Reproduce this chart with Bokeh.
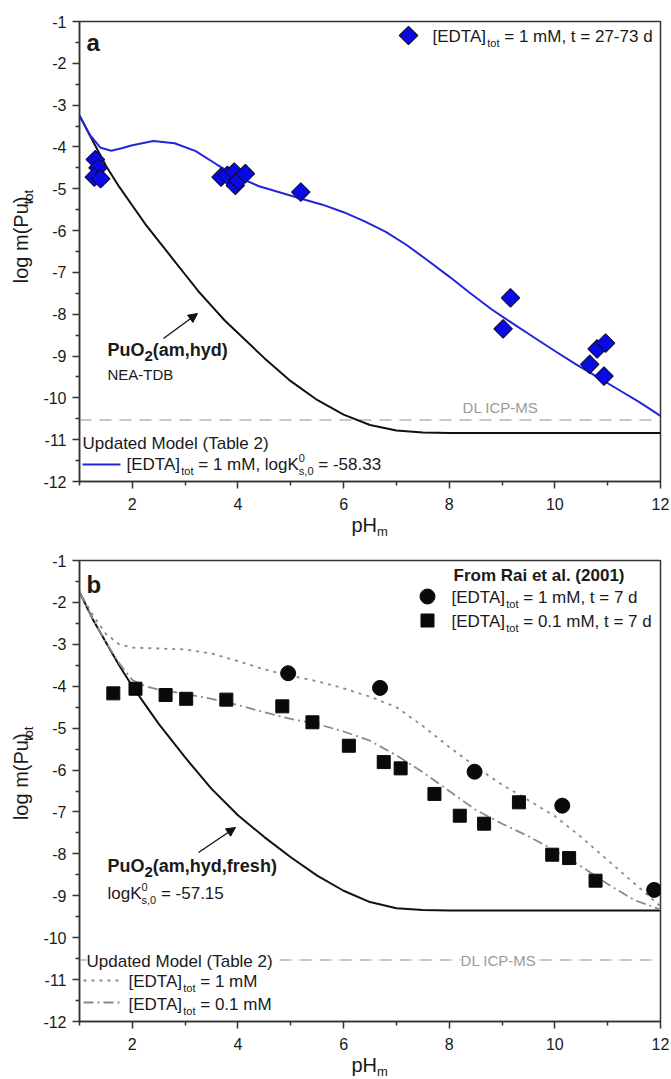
import math
from bokeh.plotting import figure
from bokeh.models import Range1d, FixedTicker, Label, Arrow, NormalHead
from bokeh.layouts import column, row
from bokeh.embed import file_html
from bokeh.resources import INLINE

# ---------------- data ----------------
# panel a: experimental data, [EDTA]tot = 1 mM, t = 27-73 d
a_ph = [1.30, 1.35, 1.28, 1.40, 3.68, 3.80, 3.93, 3.95, 4.00, 4.14, 5.19,
        9.16, 9.02, 10.80, 10.96, 10.66, 10.93]
a_logm = [-4.30, -4.50, -4.72, -4.76, -4.72, -4.68, -4.60, -4.92, -4.80, -4.64, -5.08,
          -7.61, -8.35, -8.83, -8.69, -9.20, -9.48]

# panel a: model with EDTA (blue)
a_model_ph = [1.0, 1.2, 1.4, 1.6, 1.8, 2.0, 2.4, 2.8, 3.2, 3.6, 4.0, 4.4, 4.8, 5.2, 5.6,
              6.0, 6.4, 6.8, 7.2, 7.6, 8.0, 8.4, 8.8, 9.2, 9.6, 10.0, 10.4, 10.8, 11.2,
              11.6, 12.0]
a_model_logm = [-3.25, -3.72, -4.02, -4.09, -4.03, -3.96, -3.86, -3.91, -4.10, -4.42,
                -4.72, -4.94, -5.09, -5.24, -5.38, -5.56, -5.78, -6.03, -6.35, -6.72,
                -7.10, -7.50, -7.88, -8.22, -8.55, -8.88, -9.20, -9.50, -9.80, -10.10,
                -10.43]

# panel a: PuO2(am,hyd), NEA-TDB (black)
a_puo2_ph = [1.0, 1.25, 1.5, 1.75, 2.0, 2.25, 2.5, 2.75, 3.0, 3.25, 3.5, 3.75, 4.0,
             4.5, 5.0, 5.5, 6.0, 6.5, 7.0, 7.5, 8.0, 12.0]
a_puo2_logm = [-3.25, -3.85, -4.45, -4.95, -5.40, -5.85, -6.25, -6.65, -7.05, -7.45,
               -7.80, -8.15, -8.45, -9.05, -9.60, -10.05, -10.40, -10.65, -10.78,
               -10.83, -10.84, -10.84]

# panel b: Rai et al. (2001)
b1_ph = [4.95, 6.69, 8.48, 10.14, 11.88]
b1_logm = [-3.69, -4.04, -6.04, -6.85, -8.86]
b2_ph = [1.64, 2.06, 2.63, 3.02, 3.78, 4.84, 5.41, 6.10, 6.76, 7.08, 7.72, 8.20,
         8.66, 9.32, 9.95, 10.27, 10.77]
b2_logm = [-4.17, -4.06, -4.21, -4.30, -4.32, -4.48, -4.86, -5.42, -5.81, -5.96,
           -6.57, -7.09, -7.28, -6.77, -8.02, -8.10, -8.64]

# panel b: PuO2(am,hyd,fresh) (black)
b_puo2_ph = [1.0, 1.25, 1.5, 1.75, 2.0, 2.25, 2.5, 2.75, 3.0, 3.5, 4.0, 4.5, 5.0,
             5.5, 6.0, 6.5, 7.0, 7.5, 8.0, 12.0]
b_puo2_logm = [-1.75, -2.40, -2.95, -3.50, -4.00, -4.45, -4.90, -5.30, -5.70, -6.45,
               -7.08, -7.60, -8.08, -8.52, -8.88, -9.15, -9.30, -9.34, -9.35, -9.35]

# panel b: model 1 mM (dotted) and 0.1 mM (dash-dot)
b_m1_ph = [1.0, 1.25, 1.5, 1.75, 2.0, 2.5, 3.0, 3.5, 4.0, 4.5, 5.0, 5.5, 6.0, 6.5,
           7.0, 7.5, 8.0, 8.5, 9.0, 9.5, 10.0, 10.5, 11.0, 11.5, 12.0]
b_m1_logm = [-1.75, -2.30, -2.75, -3.00, -3.08, -3.10, -3.12, -3.22, -3.40, -3.60,
             -3.75, -3.88, -4.05, -4.25, -4.50, -4.95, -5.45, -5.92, -6.35, -6.72,
             -7.10, -7.60, -8.15, -8.70, -9.25]
b_m01_ph = [1.0, 1.25, 1.5, 1.75, 2.0, 2.25, 2.5, 3.0, 3.5, 4.0, 4.5, 5.0, 5.5, 6.0,
            6.5, 7.0, 7.5, 8.0, 8.5, 9.0, 9.5, 10.0, 10.5, 11.0, 11.5, 12.0]
b_m01_logm = [-1.75, -2.40, -2.95, -3.45, -3.85, -4.00, -4.08, -4.18, -4.30, -4.45,
              -4.62, -4.78, -4.90, -5.08, -5.30, -5.65, -6.05, -6.50, -6.95, -7.28,
              -7.58, -7.92, -8.30, -8.72, -9.10, -9.33]

DL_LEVEL = -10.53
x_ticks = [2, 4, 6, 8, 10, 12]
x_minor = [1, 3, 5, 7, 9, 11]
y_ticks = [-1, -2, -3, -4, -5, -6, -7, -8, -9, -10, -11, -12]
y_minor = [-1.5 - i for i in range(11)]

# ---------------- text metrics (Arial / Liberation Sans) ----------------
REG = {' ': 278, '(': 333, ')': 333, ',': 278, '-': 333, '.': 278, '=': 584,
       '[': 278, ']': 278, 'A': 667, 'B': 667, 'C': 722, 'D': 722, 'E': 667,
       'F': 611, 'H': 722, 'I': 278, 'K': 667, 'L': 556, 'M': 833, 'N': 722,
       'O': 778, 'P': 667, 'R': 722, 'S': 667, 'T': 611, 'U': 722,
       'a': 556, 'b': 556, 'c': 500, 'd': 556, 'e': 556, 'f': 278, 'g': 556,
       'h': 556, 'i': 222, 'l': 222, 'm': 833, 'n': 556, 'o': 556, 'p': 556,
       'r': 333, 's': 500, 't': 278, 'u': 556, 'y': 500}
BOLD = {' ': 278, '(': 333, ')': 333, ',': 278, '-': 333, '.': 278, '=': 584,
        'A': 722, 'F': 611, 'O': 778, 'P': 667, 'R': 722,
        'a': 556, 'b': 611, 'd': 611, 'e': 556, 'f': 333, 'h': 611, 'i': 278,
        'l': 278, 'm': 889, 'o': 611, 'r': 389, 's': 556, 't': 333, 'u': 611,
        'y': 556}


def tw(s, size, bold=False):
    m = BOLD if bold else REG
    return sum(m.get(c, 556) for c in s) * size / 1000.0


FONT = "Liberation Sans"
INK = "#1a1a1a"
W = 671
YL_W = 36           # width of the strip that holds the rotated y title
FL, FR = 79, 660    # frame left / right (page pixels)
FIG_H = 515
BASE_FIX = 0.32     # renderer places "alphabetic" text this many em lower


class Canvas:
    """Places texts given in page pixels (baseline positions) on a figure."""

    def X(self, px):
        raise NotImplementedError

    def Y(self, py):
        raise NotImplementedError

    def lab(self, px, py, text, size, bold=False, color=INK, angle=0, bg=None, align="left"):
        kw = {}
        if bg:
            kw["background_fill_color"] = bg
        if angle:
            px = px - BASE_FIX * size
        else:
            py = py - BASE_FIX * size
        self.p.add_layout(Label(x=self.X(px), y=self.Y(py), text=text, text_font=FONT,
                                text_font_size=f"{size}px",
                                text_font_style="bold" if bold else "normal",
                                text_color=color, text_align=align,
                                text_baseline="alphabetic", angle=angle, **kw))

    def rich(self, px, py, parts, color=INK, rotated=False, bg=None):
        cur = 0.0
        for part in parts:
            if part[0] == "stack":
                _, sup, sub, s = part
                for t, dy in ((sup, -8), (sub, 5)):
                    self._put(px, py, cur, dy, t, s, False, color, rotated, bg)
                cur += max(tw(sup, s), tw(sub, s))
            else:
                t, s, b, dy = part
                self._put(px, py, cur, dy, t, s, b, color, rotated, bg)
                cur += tw(t, s, b)

    def _put(self, px, py, cur, dy, t, s, b, color, rotated, bg):
        stripped = t.lstrip(" ")
        cur = cur + tw(t[:len(t) - len(stripped)], s, b)
        if rotated:
            self.lab(px + dy, py - cur, stripped, s, b, color, angle=math.pi / 2, bg=bg)
        else:
            self.lab(px + cur, py + dy, stripped, s, b, color, bg=bg)


class Strip(Canvas):
    """A bare figure whose data units are page pixels (for axis titles)."""

    def __init__(self, x0, y0, w, h):
        self.p = figure(width=w, height=h, x_range=Range1d(x0, x0 + w),
                        y_range=Range1d(y0 + h, y0), x_axis_type=None, y_axis_type=None,
                        output_backend="svg", toolbar_location=None,
                        min_border_left=0, min_border_right=0, min_border_top=0,
                        min_border_bottom=0)
        self.p.outline_line_color = None
        self.p.xgrid.visible = False
        self.p.ygrid.visible = False
        self.p.background_fill_color = "white"
        self.p.border_fill_color = "white"

    def X(self, px):
        return px

    def Y(self, py):
        return py


class Panel(Canvas):
    def __init__(self, off, ftop, fbot):
        self.off, self.ftop, self.fbot = off, ftop, fbot
        p = figure(width=W - YL_W, height=FIG_H, x_range=Range1d(1, 12),
                   y_range=Range1d(-12, -1), output_backend="svg", toolbar_location=None,
                   min_border_left=FL - YL_W, min_border_right=W - FR,
                   min_border_top=ftop, min_border_bottom=FIG_H - fbot)
        p.xgrid.visible = False
        p.ygrid.visible = False
        p.background_fill_color = "white"
        p.border_fill_color = "white"
        p.outline_line_color = "#333333"
        p.outline_line_width = 1.5
        p.xaxis.ticker = FixedTicker(ticks=x_ticks, minor_ticks=x_minor)
        p.yaxis.ticker = FixedTicker(ticks=y_ticks, minor_ticks=y_minor)
        p.xaxis.major_label_overrides = {t: str(t) for t in x_ticks}
        p.yaxis.major_label_overrides = {t: str(t) for t in y_ticks}
        for ax in (p.xaxis, p.yaxis):
            ax.axis_line_color = "#333333"
            ax.axis_line_width = 1.5
            ax.major_tick_line_color = "#333333"
            ax.minor_tick_line_color = "#333333"
            ax.major_tick_line_width = 1.5
            ax.minor_tick_line_width = 1.5
            ax.major_tick_in = 0
            ax.major_tick_out = 7
            ax.minor_tick_in = 0
            ax.minor_tick_out = 4
            ax.major_label_text_font = FONT
            ax.major_label_text_font_size = "16px"
            ax.major_label_text_color = INK
        p.xaxis.major_label_standoff = 9
        p.yaxis.major_label_standoff = 6
        self.p = p

    def X(self, px):
        return 1 + (px - FL) * 11.0 / (FR - FL)

    def Y(self, py):
        return -1 - (py - self.off - self.ftop) * 11.0 / (self.fbot - self.ftop)


def edta(size=17, sub=11):
    return [("[EDTA]", size, False, 0), ("tot", sub, False, 5)]


def y_title(strip, py_bottom):
    strip.rich(27, py_bottom, [("log m(Pu)", 20, False, 0), (" ", 6, False, 0),
                               ("tot", 13, False, 5)], rotated=True)


def x_title(strip, py_base):
    strip.rich(351, py_base, [("pH", 20, False, 0), ("m", 13, False, 4)])


# ======================= panel a =======================
A = Panel(0, 21, 481)
pa = A.p
pa.line([1, 12], [DL_LEVEL, DL_LEVEL], line_color="#b4b4b4", line_width=1.5, line_dash="12 8")
pa.line(a_puo2_ph, a_puo2_logm, line_color="#111111", line_width=2)
pa.line(a_model_ph, a_model_logm, line_color="#2424d8", line_width=2)
pa.scatter(a_ph, a_logm, marker="square", angle=math.pi / 4, size=13,
           fill_color="#0a0ae6", line_color="#0d0d40", line_width=1.2)

# legend (top right)
pa.scatter([A.X(408)], [A.Y(35)], marker="square", angle=math.pi / 4, size=13,
           fill_color="#0a0ae6", line_color="#0d0d40", line_width=1.2)
A.rich(432, 41, edta() + [(" = 1 mM, t = 27-73 d", 17, False, 0)])

# legend (bottom left)
A.lab(82, 448, "Updated Model (Table 2)", 17)
pa.line([A.X(82), A.X(120)], [A.Y(464), A.Y(464)], line_color="#2424d8", line_width=2)
A.rich(126, 469, edta() + [(" = 1 mM, logK", 17, False, 0), ("stack", "0", "s,0", 11),
                           (" = -58.33", 17, False, 0)])

A.lab(86, 50, "a", 24, bold=True)
A.lab(500, 412, "DL ICP-MS", 15, color="#9a9a9a", align="center")
A.rich(107, 355, [("PuO", 18, True, 0), ("2", 15, True, 5), ("(am,hyd)", 18, True, 0)])
A.lab(107, 379, "NEA-TDB", 15)
pa.add_layout(Arrow(end=NormalHead(size=9, fill_color="#111111", line_color="#111111"),
                    x_start=A.X(163), y_start=A.Y(338), x_end=A.X(197), y_end=A.Y(313),
                    line_color="#111111", line_width=1.3))

yl_a = Strip(0, 0, YL_W, FIG_H)
y_title(yl_a, 293)
xl_a = Strip(0, FIG_H, W, 540 - FIG_H)
x_title(xl_a, 531)

# ======================= panel b =======================
OFF = 540
B = Panel(OFF, 20, 481)
pb = B.p
pb.line([1, 12], [DL_LEVEL, DL_LEVEL], line_color="#b4b4b4", line_width=1.5, line_dash="12 8")
pb.line(b_puo2_ph, b_puo2_logm, line_color="#111111", line_width=2)
pb.line(b_m1_ph, b_m1_logm, line_color="#8a8a8a", line_width=1.8, line_dash="3 5")
pb.line(b_m01_ph, b_m01_logm, line_color="#8a8a8a", line_width=1.8, line_dash="10 4 2 4")
pb.scatter(b1_ph, b1_logm, marker="circle", size=15, fill_color="#0a0a0a", line_color="#0a0a0a")
pb.scatter(b2_ph, b2_logm, marker="square", size=13, fill_color="#0a0a0a", line_color="#0a0a0a")

# legend (top right)
B.lab(453, 580, "From Rai et al. (2001)", 17, bold=True)
pb.scatter([B.X(427)], [B.Y(596)], marker="circle", size=15,
           fill_color="#0a0a0a", line_color="#0a0a0a")
B.rich(451, 602, edta() + [(" = 1 mM, t = 7 d", 17, False, 0)])
pb.scatter([B.X(427)], [B.Y(620)], marker="square", size=13,
           fill_color="#0a0a0a", line_color="#0a0a0a")
B.rich(451, 626, edta() + [(" = 0.1 mM, t = 7 d", 17, False, 0)])

# legend (bottom left)
B.lab(86, 966, "Updated Model (Table 2)", 17, bg="white")
pb.line([B.X(83), B.X(123)], [B.Y(980), B.Y(980)], line_color="#8a8a8a",
        line_width=1.8, line_dash="3 5")
B.rich(128, 986, edta() + [(" = 1 mM", 17, False, 0)])
pb.line([B.X(83), B.X(123)], [B.Y(1002), B.Y(1002)], line_color="#8a8a8a",
        line_width=1.8, line_dash="10 4 2 4")
B.rich(128, 1009, edta() + [(" = 0.1 mM", 17, False, 0)])

B.lab(86, 592, "b", 24, bold=True)
B.lab(498, 965, "DL ICP-MS", 15, color="#9a9a9a", align="center", bg="white")
B.rich(107, 871, [("PuO", 18, True, 0), ("2", 15, True, 5), ("(am,hyd,fresh)", 18, True, 0)])
B.rich(107, 898, [("logK", 17, False, 0), ("stack", "0", "s,0", 11),
                  (" = -57.15", 17, False, 0)])
pb.add_layout(Arrow(end=NormalHead(size=9, fill_color="#111111", line_color="#111111"),
                    x_start=B.X(198), y_start=B.Y(852), x_end=B.X(235), y_end=B.Y(827),
                    line_color="#111111", line_width=1.3))

yl_b = Strip(0, OFF, YL_W, FIG_H)
y_title(yl_b, 830)
xl_b = Strip(0, OFF + FIG_H, W, 1079 - OFF - FIG_H)
x_title(xl_b, 1071)

layout = column(row(yl_a.p, pa, spacing=0), xl_a.p, row(yl_b.p, pb, spacing=0), xl_b.p,
                spacing=0)
open("out.html", "w").write(file_html(layout, INLINE))
